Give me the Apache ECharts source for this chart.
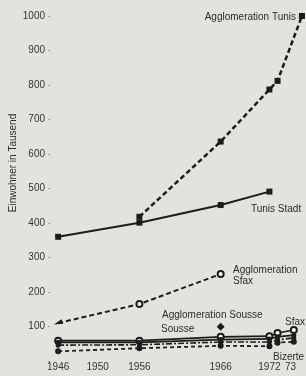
<!DOCTYPE html>
<html>
<head>
<meta charset="utf-8">
<script src="https://cdn.jsdelivr.net/npm/echarts@6/dist/echarts.min.js"></script>
<style>
  html, body { margin: 0; padding: 0; background: #e3e3dd; }
  #chart { width: 306px; height: 376px; }
</style>
</head>
<body>
<div id="chart"></div>
<script>
// Einwohner in Tausend
const yTicks = [100, 200, 300, 400, 500, 600, 700, 800, 900, 1000];
const xTickYears = [1946, 1950, 1956, 1966, 1972, 1973];
const xTickLabels = ["1946", "1950", "1956", "1966", "1972", "73"];

const tunisStadtYears = [1946, 1956, 1966, 1972];
const tunisStadt = [360, 401, 452, 491];

const aggloTunisYears = [1956, 1966, 1972, 1973, 1976];
const aggloTunis = [418, 636, 787, 812, 1000];

const aggloSfaxYears = [1946, 1956, 1966];
const aggloSfax = [110, 165, 252];

const smallYears = [1946, 1956, 1966, 1972, 1973, 1975];
const sfax = [59, 59, 70, 72, 81, 90];
const sousse = [54, 54, 62, 64, 70, 75];
const dashDot = [46, 47, 55, 55, 61, 67];
const bizerte = [28, 37, 44, 43, 53, 56];

const aggloSousseYears = [1966];
const aggloSousse = [99];

const ink = "#1c1c1c";
const zip = (xs, ys) => xs.map((x, i) => [x, ys[i]]);

const chart = echarts.init(document.getElementById("chart"));

const txt = (text, x, y, align) => ({
  type: "text",
  x: x,
  y: y,
  style: {
    text: text,
    fill: "#2a2a2a",
    font: "10px 'Liberation Sans', Arial, sans-serif",
    align: align || "left",
    verticalAlign: "middle",
  },
});

chart.setOption({
  backgroundColor: "#e3e3dd",
  animation: false,
  grid: { left: 50, right: 0, top: 16, bottom: 15, containLabel: false },
  xAxis: {
    type: "value",
    min: 1945,
    max: 1976.5,
    axisLine: { show: false },
    axisTick: { show: false },
    splitLine: { show: false },
    axisLabel: {
      customValues: xTickYears,
      margin: 1,
      color: "#333",
      fontSize: 10,
      fontFamily: "Liberation Sans",
      formatter: (v) => {
        const i = xTickYears.indexOf(v);
        const t = i >= 0 ? xTickLabels[i] : "";
        if (v === 1950) return "{a|" + t + "}";
        if (v === 1973) return "{b|" + t + "}";
        return t;
      },
      rich: {
        a: { padding: [0, 0, 0, 14], color: "#333", fontSize: 10 },
        b: { padding: [0, 0, 0, 26], color: "#333", fontSize: 10 },
      },
    },
  },
  yAxis: {
    type: "value",
    min: 0,
    max: 1000,
    interval: 100,
    axisLine: { show: false },
    axisTick: { show: true, length: 2, lineStyle: { color: "#999" } },
    splitLine: { show: false },
    axisLabel: {
      margin: 5,
      color: "#333",
      fontSize: 10,
      fontFamily: "Liberation Sans",
      formatter: (v) => (yTicks.includes(v) ? String(v) : ""),
    },
  },
  graphic: [
    {
      type: "text",
      x: 13,
      y: 163,
      rotation: Math.PI / 2,
      style: {
        text: "Einwohner in Tausend",
        fill: "#2a2a2a",
        font: "10px 'Liberation Sans', Arial, sans-serif",
        align: "center",
        verticalAlign: "middle",
      },
    },
    txt("Agglomeration Tunis", 296, 17, "right"),
    txt("Tunis Stadt", 251, 209),
    txt("Agglomeration", 233, 270),
    txt("Sfax", 233, 281),
    txt("Agglomeration Sousse", 162, 315),
    txt("Sousse", 161, 329),
    txt("Sfax", 285, 322),
    txt("Bizerte", 273, 357),
  ],
  series: [
    {
      name: "Tunis Stadt",
      type: "line",
      data: zip(tunisStadtYears, tunisStadt),
      symbol: "rect",
      symbolSize: 6,
      itemStyle: { color: ink },
      lineStyle: { color: ink, width: 2 },
    },
    {
      name: "Agglomeration Tunis",
      type: "line",
      data: zip(aggloTunisYears, aggloTunis),
      symbol: "rect",
      symbolSize: 6,
      itemStyle: { color: ink },
      lineStyle: { color: ink, width: 2.5, type: [5, 3] },
    },
    {
      name: "Agglomeration Sfax",
      type: "line",
      data: zip(aggloSfaxYears, aggloSfax).map((d, i) =>
        i === 0 ? { value: d, symbol: "triangle", symbolRotate: 110, symbolSize: [5, 9] } : d
      ),
      symbol: "emptyCircle",
      symbolSize: 6,
      itemStyle: { color: ink, borderWidth: 1.2 },
      lineStyle: { color: ink, width: 2, type: [5, 3] },
    },
    {
      name: "Sfax",
      type: "line",
      data: zip(smallYears, sfax),
      symbol: "emptyCircle",
      symbolSize: 6,
      itemStyle: { color: ink, borderWidth: 1.2 },
      lineStyle: { color: ink, width: 1.6 },
    },
    {
      name: "Sousse",
      type: "line",
      data: zip(smallYears, sousse),
      symbol: "circle",
      symbolSize: 5,
      itemStyle: { color: ink },
      lineStyle: { color: ink, width: 1.6 },
    },
    {
      name: "Strichpunkt",
      type: "line",
      data: zip(smallYears, dashDot),
      symbol: "circle",
      symbolSize: 5,
      itemStyle: { color: ink },
      lineStyle: { color: ink, width: 1.6, type: [6, 2, 2, 2] },
    },
    {
      name: "Bizerte",
      type: "line",
      data: zip(smallYears, bizerte),
      symbol: "circle",
      symbolSize: 6,
      itemStyle: { color: ink },
      lineStyle: { color: ink, width: 1.8, type: [4, 3] },
    },
    {
      name: "Agglomeration Sousse",
      type: "line",
      data: zip(aggloSousseYears, aggloSousse),
      symbol: "diamond",
      symbolSize: 8,
      itemStyle: { color: ink },
    },
  ],
});
</script>
</body>
</html>
